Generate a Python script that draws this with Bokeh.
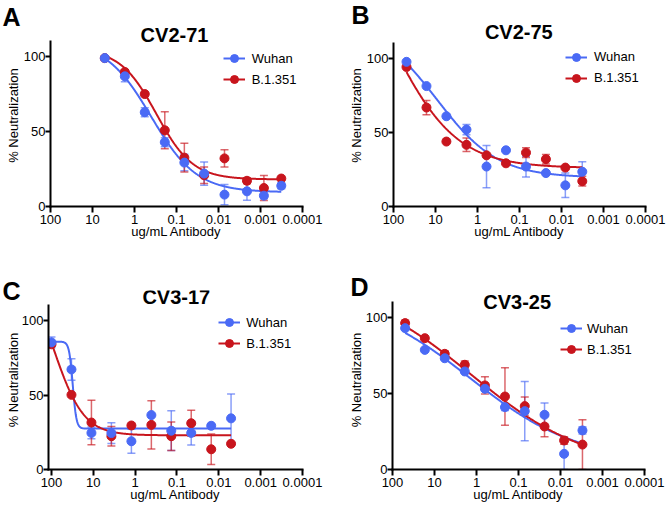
import math
import numpy as np
from bokeh.plotting import figure
from bokeh.models import (Range1d, FixedTicker, PrintfTickFormatter, Label, Legend,
                          LegendItem, ColumnDataSource, Whisker, TeeHead, Title)
from bokeh.layouts import row, column
from bokeh.embed import file_html
from bokeh.resources import INLINE

FONT = "Liberation Sans"
BLUE = "#4a6af5"
RED = "#c8151d"

series_names = ["Wuhan", "B.1.351"]
x_ticks = [100, 10, 1, 0.1, 0.01, 0.001, 0.0001]
y_ticks = [0, 50, 100]
x_label = "ug/mL Antibody"
y_label = "% Neutralization"

# ---------------- Panel A : CV2-71 ----------------
conc_A = [5.1, 1.7, 0.57, 0.19, 0.065, 0.022, 0.0072, 0.0021, 0.00083, 0.00032]
wuhan_A = [98.7, 86.6, 62.7, 42.8, 29.2, 21.9, 7.9, 10.1, 7.2, 13.8]
wuhan_A_err = [0, 3.6, 3, 3, 5.5, 7.7, 6.8, 6, 2, 2]
b1351_A = [98.7, 89.5, 74.8, 50.7, 32.5, 20.8, 32, 17.1, 12.3, 18.6]
b1351_A_err = [1.5, 1.5, 0, 12.3, 9.6, 5.5, 5.7, 2, 8.3, 0]
fit_wuhan_A = [110, 9.5, 0.4, 0.8]      # top, bottom, IC50, Hill slope
fit_b1351_A = [105, 18, 0.3, 1.0]

# ---------------- Panel B : CV2-75 ----------------
conc_B = [49, 16.4, 5.5, 1.83, 0.61, 0.21, 0.07, 0.0235, 0.0081, 0.0032]
wuhan_B = [97.8, 81.4, 61, 52, 27, 38, 27, 22.6, 14.3, 23.5]
wuhan_B_err = [0, 0, 0, 3.5, 14.3, 0, 7, 0, 8.3, 6.8]
b1351_B = [94.3, 66.9, 43.9, 41.7, 34.6, 29.2, 36.4, 32, 26.3, 17.1]
b1351_B_err = [0, 4.8, 0, 4.6, 0, 0, 3.3, 3.2, 0, 3.3]
fit_wuhan_B = [125, 19.5, 9.2, 0.6]
fit_b1351_B = [200, 26, 126, 0.55]

# ---------------- Panel C : CV3-17 ----------------
conc_C = [100, 33.3, 11.1, 3.7, 1.23, 0.41, 0.137, 0.0457, 0.0152, 0.0051]
wuhan_C = [85.5, 67.3, 24.6, 24.5, 19, 36.6, 26.1, 24.6, 29.4, 34.4]
wuhan_C_err = [3.6, 7.2, 4, 7, 8, 0, 13.4, 8.1, 0, 16.4]
b1351_C = [84.2, 50.2, 31.6, 22.4, 29.6, 30, 22.4, 31.1, 13.6, 17.3]
b1351_C_err = [0, 0, 15, 6.6, 0, 16.2, 9.6, 8.8, 10.3, 0]
fit_wuhan_C = [86, 27.5, 31, 10]
fit_b1351_C = [140, 23, 90, 1.2]

# ---------------- Panel D : CV3-25 ----------------
conc_D = [50, 17, 5.7, 1.9, 0.63, 0.21, 0.071, 0.024, 0.0082, 0.003]
wuhan_D = [93, 78.7, 73.2, 64.5, 53.1, 41, 38.4, 36, 10.3, 25.7]
wuhan_D_err = [0, 0, 0, 0, 0, 2.2, 19.5, 7.7, 10.3, 2.4]
b1351_D = [96.3, 86.4, 76.1, 68.9, 55.3, 48, 41.7, 28.3, 19.1, 16.4]
b1351_D_err = [2, 0, 2, 2.5, 5.7, 18.9, 6, 6.8, 2.5, 16.4]
fit_wuhan_D = [115, 5, 1.4, 0.34]
fit_b1351_D = [125, 0, 1.35, 0.31]

PANELS = [
    dict(letter="A", title="CV2-71", conc=conc_A, w=wuhan_A, we=wuhan_A_err, r=b1351_A, re=b1351_A_err,
         fw=fit_wuhan_A, fr=fit_b1351_A),
    dict(letter="B", title="CV2-75", conc=conc_B, w=wuhan_B, we=wuhan_B_err, r=b1351_B, re=b1351_B_err,
         fw=fit_wuhan_B, fr=fit_b1351_B),
    dict(letter="C", title="CV3-17", conc=conc_C, w=wuhan_C, we=wuhan_C_err, r=b1351_C, re=b1351_C_err,
         fw=fit_wuhan_C, fr=fit_b1351_C),
    dict(letter="D", title="CV3-25", conc=conc_D, w=wuhan_D, we=wuhan_D_err, r=b1351_D, re=b1351_D_err,
         fw=fit_wuhan_D, fr=fit_b1351_D),
]

# layout geometry in pixels (figure coordinates)
PX_PER_UNIT = 1.52
GEOM = {
    "A": dict(W=333, H=272, L=50, R=31, T=22, B=66, x_start=100, let_off=-48, let_so=-13,
              title=(124, 171.2), ylab_s=0, leg=(172.7, 116.7), stand=7),
    "B": dict(W=333, H=272, L=60, R=21, T=24, B=61, x_start=100, let_off=-42, let_so=-9,
              title=(125.3, 174.6), ylab_s=0, leg=(172, 118.3), stand=7),
    "C": dict(W=333, H=236, L=48, R=31, T=14, B=39, x_start=117.9, let_off=-46, let_so=-29,
              title=(127.8, 172.4), ylab_s=-2, leg=(170.3, 115.7), stand=6),
    "D": dict(W=333, H=236, L=59, R=22, T=18, B=39, x_start=100, let_off=-42, let_so=-21,
              title=(124.7, 167.9), ylab_s=-1, leg=(168, 110), stand=5),
}


def four_pl(c, prm):
    top, bot, ic50, hill = prm
    return bot + (top - bot) / (1.0 + (ic50 / c) ** hill)


def make_panel(d):
    g = GEOM[d["letter"]]
    y_end = (g["H"] - g["B"] - g["T"]) / PX_PER_UNIT
    p = figure(width=g["W"], height=g["H"], x_axis_type="log",
               x_range=Range1d(g["x_start"], 0.0001), y_range=Range1d(0, y_end),
               min_border_left=g["L"], min_border_right=g["R"],
               min_border_top=g["T"], min_border_bottom=g["B"],
               output_backend="svg", toolbar_location=None, tools="")
    p.outline_line_color = None
    p.grid.visible = False
    p.background_fill_color = "white"
    p.border_fill_color = "white"

    xa = p.xaxis[0]
    xa.ticker = FixedTicker(ticks=x_ticks)
    xa.formatter = PrintfTickFormatter(format="%g")
    xa.axis_label = x_label
    xa.axis_label_standoff = -3
    ya = p.yaxis[0]
    ya.ticker = FixedTicker(ticks=y_ticks)
    ya.bounds = (0, 110)
    ya.axis_label = y_label
    ya.axis_label_standoff = g["ylab_s"]
    for ax, tick_out, standoff in ((xa, 6, 2), (ya, 5, 0)):
        ax.axis_line_width = 2
        ax.axis_line_color = "black"
        ax.axis_line_cap = "square"
        ax.major_tick_line_width = 2
        ax.major_tick_line_color = "black"
        ax.major_tick_out = tick_out
        ax.major_tick_in = 0
        ax.minor_tick_line_color = None
        ax.major_label_standoff = standoff
        ax.major_label_text_font = FONT
        ax.major_label_text_font_size = "13px"
        ax.major_label_text_color = "black"
        ax.axis_label_text_font = FONT
        ax.axis_label_text_font_size = "13px"
        ax.axis_label_text_font_style = "normal"
        ax.axis_label_text_color = "black"

    conc = d["conc"]
    groups = [("w", "we", "fw", BLUE, series_names[0]), ("r", "re", "fr", RED, series_names[1])]
    for key, ekey, _, col, _ in groups:
        idx = [i for i, e in enumerate(d[ekey]) if e > 0]
        src = ColumnDataSource(dict(base=[conc[i] for i in idx],
                                    upper=[d[key][i] + d[ekey][i] for i in idx],
                                    lower=[d[key][i] - d[ekey][i] for i in idx]))
        wk = Whisker(source=src, base="base", upper="upper", lower="lower", dimension="height",
                     line_color=col, line_width=1.5, line_alpha=0.65, level="underlay",
                     upper_head=TeeHead(size=8, line_color=col, line_width=1.5, line_alpha=0.65),
                     lower_head=TeeHead(size=8, line_color=col, line_width=1.5, line_alpha=0.65))
        p.add_layout(wk)
    lines = {}
    xs = np.logspace(math.log10(min(conc)), math.log10(max(conc)), 400)
    for key, _, fkey, col, _ in groups:
        lines[key] = p.line(xs, four_pl(xs, d[fkey]), line_color=col, line_width=2)
    dots = {}
    for key, _, _, col, _ in reversed(groups):
        dots[key] = p.scatter(conc, d[key], marker="circle", size=9,
                              fill_color=col, line_color=col)
    items = [LegendItem(label=name, renderers=[lines[key], dots[key]])
             for key, _, _, _, name in groups]

    lx, lb = g["leg"]
    leg = Legend(items=items, location=(lx, lb), orientation="vertical",
                 glyph_width=22, glyph_height=20, label_height=20, spacing=1,
                 label_standoff=g["stand"], padding=0, margin=0,
                 border_line_color=None, background_fill_alpha=0,
                 label_text_font=FONT, label_text_font_size="13px",
                 label_text_color="black")
    p.add_layout(leg)

    # chart title inside the (extended) frame
    tx, ty = g["title"]
    p.add_layout(Label(x=tx, y=ty, x_units="screen", y_units="screen", text=d["title"],
                       text_font=FONT, text_font_size="20px", text_font_style="bold",
                       text_align="center", text_baseline="middle", text_color="black"))
    # panel letter in the top border
    p.add_layout(Title(text=d["letter"], align="left", vertical_align="bottom",
                       offset=g["let_off"], standoff=g["let_so"], text_font=FONT,
                       text_font_size="25px", text_font_style="bold", text_color="black"),
                 "above")
    return p


figs = [make_panel(d) for d in PANELS]
layout = column(row(figs[0], figs[1]), row(figs[2], figs[3]))

open("out.html", "w").write(file_html(layout, INLINE))
